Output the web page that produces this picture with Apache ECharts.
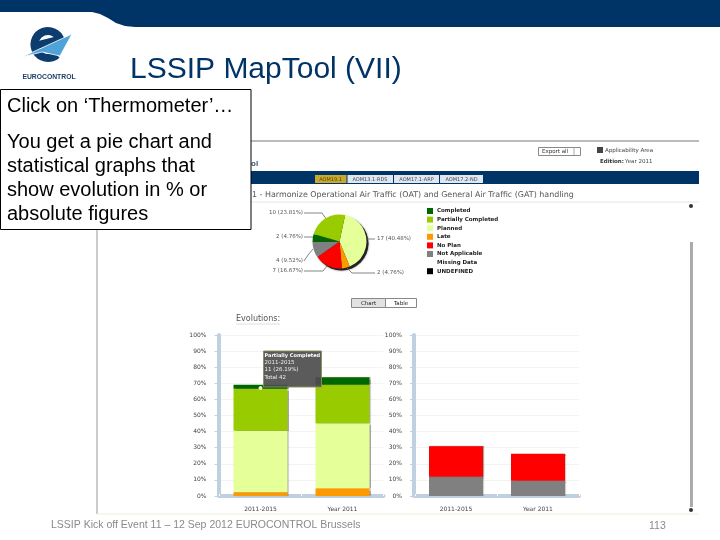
<!DOCTYPE html>
<html>
<head>
<meta charset="utf-8">
<title>LSSIP MapTool (VII)</title>
<script src="https://cdn.jsdelivr.net/npm/echarts@6/dist/echarts.min.js"></script>
<style>
  html, body { margin: 0; padding: 0; background: #fff; }
  #chart { width: 720px; height: 540px; }
</style>
</head>
<body>
<div id="chart"></div>
<script>
// pie + legend
var statusNames = ['Completed', 'Partially Completed', 'Planned', 'Late', 'No Plan', 'Not Applicable', 'Missing Data', 'UNDEFINED'];
var statusColors = ['#006600', '#99cc00', '#e5ff99', '#ff9900', '#ff0000', '#808080', '#ffffff', '#000000'];
var pieOrder = ['Planned', 'Late', 'No Plan', 'Not Applicable', 'Completed', 'Partially Completed', 'Missing Data', 'UNDEFINED'];
var pieValues = [17, 2, 7, 4, 2, 10, 0, 0];

// evolution bars, % of 42
var periods = ['2011-2015', 'Year 2011'];
var lateShare = [2.38, 4.76];
var plannedShare = [38.10, 40.48];
var partialShare = [26.19, 23.81];
var completedShare = [2.38, 4.76];
var notApplicableShare = [11.90, 9.52];
var noPlanShare = [19.05, 16.67];

var tabNames = ['AOM19.1', 'AOM13.1-RDS', 'AOM17.1-ARP', 'AOM17.2-ND'];
var tooltipLines = ['Partially Completed', '2011-2015', '11 (26.19%)', 'Total 42'];
var boxLines = ['You get a pie chart and', 'statistical graphs that', 'show evolution in % or', 'absolute figures'];

// where the pie labels sit: label x, y, then the leader line
var pieLabelSpots = [
  { x: 377, y: 239, align: 'left', line: [[367, 239], [371, 239], [375, 239]] },
  { x: 377, y: 273, align: 'left', line: [[347, 268], [352, 273], [375, 273]] },
  { x: 303, y: 271, align: 'right', line: [[327, 266], [323, 271], [304, 271]] },
  { x: 303, y: 261, align: 'right', line: [[313, 249], [308, 255], [304, 261]] },
  { x: 303, y: 237, align: 'right', line: [[314, 237], [309, 237], [304, 237]] },
  { x: 303, y: 213, align: 'right', line: [[327, 220], [322, 213], [304, 213]] }
];

var SANS = '"Liberation Sans", Arial, sans-serif';
var SMALL = '"DejaVu Sans", sans-serif';
var NAVY = '#003366';

function text(str, x, y, font, fill, extra) {
  return {
    type: 'text', z: (extra && extra.z) || 1, silent: true,
    style: {
      text: str, x: x, y: y, font: font, fill: fill,
      align: (extra && extra.align) || 'left', verticalAlign: 'middle'
    }
  };
}
function rect(x, y, w, h, fill, extra) {
  return {
    type: 'rect', z: (extra && extra.z) || 0, silent: true,
    shape: { x: x, y: y, width: w, height: h },
    style: { fill: fill, stroke: (extra && extra.stroke) || null, lineWidth: 1, opacity: (extra && extra.opacity) || 1 }
  };
}
function line(x1, y1, x2, y2, color, width) {
  return {
    type: 'line', z: 0, silent: true,
    shape: { x1: x1, y1: y1, x2: x2, y2: y2 },
    style: { stroke: color, lineWidth: width || 1 }
  };
}
function yAxisFor(gridIndex) {
  return {
    type: 'value', gridIndex: gridIndex, min: 0, max: 100, interval: 10, offset: 1,
    axisLabel: { formatter: '{value}%', fontSize: 6, fontFamily: SMALL, color: '#444', margin: 12 },
    axisLine: { show: true, lineStyle: { color: '#c0d0e0', width: 4 } },
    axisTick: { show: true, length: 4, lineStyle: { color: '#c0d0e0' } },
    splitLine: { lineStyle: { color: '#f3f3f3', width: 1 } }
  };
}
function xAxisFor(gridIndex) {
  return {
    type: 'category', gridIndex: gridIndex, data: periods, offset: 2,
    axisLabel: { fontSize: 6, fontFamily: SMALL, color: '#444', margin: 8.5, interval: 0 },
    axisLine: { lineStyle: { color: '#c0d0e0', width: 4 } },
    axisTick: { show: true, inside: true, length: 2, lineStyle: { color: '#fff', width: 1 } }
  };
}
function barFor(name, values, gridIndex, stack) {
  return {
    type: 'bar', name: name, stack: stack, data: values, barWidth: 54,
    xAxisIndex: gridIndex, yAxisIndex: gridIndex, z: 3,
    itemStyle: {
      color: statusColors[statusNames.indexOf(name)],
      shadowColor: 'rgba(60,60,40,0.45)', shadowBlur: 1, shadowOffsetX: 1
    }
  };
}

var pieData = pieOrder.map(function (name, i) {
  var item = {
    name: name, value: pieValues[i],
    itemStyle: { color: statusColors[statusNames.indexOf(name)] }
  };
  if (!pieValues[i]) {
    item.label = { show: false };
    item.labelLine = { show: false };
  }
  return item;
});

// slide furniture and the captured page around the charts
var decor = [
  { type: 'polygon', z: 0, silent: true, shape: { points: [[0, 0], [720, 0], [720, 27], [135, 27], [125, 26], [116, 23], [108, 18], [100, 14], [92, 12], [0, 12]] }, style: { fill: NAVY } },
  // logo
  { type: 'arc', z: 0, silent: true, shape: { cx: 48, cy: 44.5, r: 13.5, startAngle: -0.35, endAngle: 0.85, clockwise: false }, style: { stroke: '#0d3c6e', lineWidth: 8, fill: null } },
  { type: 'polygon', z: 0, silent: true, shape: { points: [[38, 41], [62, 35], [56, 44], [38, 49]] }, style: { fill: '#0d3c6e' } },
  { type: 'polygon', z: 0, silent: true, shape: { points: [[22, 57], [72, 34], [60, 56], [42, 52]] }, style: { fill: '#4fa3d8', stroke: '#fff', lineWidth: 0.8 } },
  text('EUROCONTROL', 49, 77, 'bold 6.8px ' + SANS, '#1c3f66', { align: 'center' }),
  text('LSSIP MapTool (VII)', 130, 70, '30px ' + SANS, NAVY),

  // page frame
  line(97, 225, 97, 514, '#999', 1),
  line(251, 141, 699, 141, '#bbb', 2),
  line(97, 514, 699, 514, '#eeeedd', 1),
  line(251, 202, 699, 202, '#e4e4e4', 1),
  line(691, 242, 691, 507, '#555', 1),
  line(692.5, 242, 692.5, 507, '#999', 0.8),
  { type: 'circle', z: 0, silent: true, shape: { cx: 691, cy: 206, r: 2 }, style: { fill: '#333' } },
  { type: 'circle', z: 0, silent: true, shape: { cx: 691, cy: 510, r: 2 }, style: { fill: '#333' } },
  rect(538.5, 147.5, 42, 8, '#fff', { stroke: '#888' }),
  line(574, 147, 574, 155, '#aaa', 1),
  text('Export all', 542, 151.5, '5.5px ' + SMALL, '#333'),
  rect(597, 147, 6, 6, '#444'),
  text('Applicability Area', 605, 150.5, '5.5px ' + SMALL, '#444'),
  text('Edition:', 600, 162, 'bold 5.5px ' + SMALL, '#333'),
  text('Year 2011', 625, 162, '5.5px ' + SMALL, '#444'),
  text('ol', 251, 163.5, 'bold 8px ' + SANS, '#335577'),
  rect(251, 171, 448, 13, NAVY),
  rect(315, 175, 31.5, 8, '#c9a92c'),
  rect(347.5, 175, 45.5, 8, '#dfe7ef'),
  rect(394, 175, 45, 8, '#dfe7ef'),
  rect(440, 175, 43, 8, '#dfe7ef'),
  text(tabNames[0], 330.5, 179.5, '5px ' + SMALL, '#554411', { align: 'center' }),
  text(tabNames[1], 370, 179.5, '5px ' + SMALL, '#445', { align: 'center' }),
  text(tabNames[2], 416.5, 179.5, '5px ' + SMALL, '#445', { align: 'center' }),
  text(tabNames[3], 461.5, 179.5, '5px ' + SMALL, '#445', { align: 'center' }),
  text('1 - Harmonize Operational Air Traffic (OAT) and General Air Traffic (GAT) handling', 252, 194.5, '7.95px ' + SMALL, '#555'),

  // drop shadow under the pie
  { type: 'circle', z: 0, silent: true, shape: { cx: 341.5, cy: 243.5, r: 27 }, style: { fill: '#222', shadowColor: 'rgba(0,0,0,0.6)', shadowBlur: 2 } },

  // chart / table switch
  rect(351.5, 298.5, 34, 9, '#e2e2e2', { stroke: '#888' }),
  rect(385.5, 298.5, 31, 9, '#fff', { stroke: '#888' }),
  text('Chart', 368.5, 303.5, '5.5px ' + SMALL, '#222', { align: 'center' }),
  text('Table', 401, 303.5, '5.5px ' + SMALL, '#222', { align: 'center' }),
  text('Evolutions:', 236, 319, '8px ' + SMALL, '#555'),
  line(236, 324, 280, 324, '#ddd', 1),

  // footer
  text('LSSIP Kick off Event 11 – 12 Sep 2012 EUROCONTROL Brussels', 51, 525.5, '10.5px ' + SANS, '#8a8a8a'),
  text('113', 649, 526.5, '10.5px ' + SANS, '#8a8a8a'),

  // hover tooltip over the first bar
  rect(263.5, 351, 58, 36, '#4d4d4d', { z: 20, stroke: '#8c8c5c', opacity: 0.92 }),
  text(tooltipLines[0], 264.5, 355.5, 'bold 5px ' + SMALL, '#fff', { z: 21 }),
  text(tooltipLines[1], 264.5, 363, '5.5px ' + SMALL, '#eee', { z: 21 }),
  text(tooltipLines[2], 264.5, 370, '5.5px ' + SMALL, '#eee', { z: 21 }),
  text(tooltipLines[3], 264.5, 378, '5.5px ' + SMALL, '#eee', { z: 21 }),
  { type: 'circle', z: 21, silent: true, shape: { cx: 260.5, cy: 388, r: 1.5 }, style: { fill: '#e5ff99', stroke: '#fff' } },

  // call-out box sits over the page capture
  rect(0.5, 89.5, 250.5, 140, '#fff', { z: 30, stroke: '#000' }),
  text('Click on ‘Thermometer’…', 7, 106, '20px ' + SANS, '#000', { z: 31 })
];
boxLines.forEach(function (str, i) {
  decor.push(text(str, 7, 142 + i * 24, '20px ' + SANS, '#000', { z: 31 }));
});

var chart = echarts.init(document.getElementById('chart'), null, { renderer: 'canvas' });
chart.setOption({
  animation: false,
  backgroundColor: '#fff',
  graphic: { elements: decor },
  legend: {
    data: statusNames, orient: 'vertical', left: 427, top: 208,
    itemWidth: 6, itemHeight: 6, itemGap: 2.6, selectedMode: false,
    icon: 'rect', padding: 0,
    textStyle: { fontSize: 5.5, fontWeight: 'bold', fontFamily: SMALL, color: '#222', padding: [0, 0, 0, -1] }
  },
  grid: [
    { left: 219.5, width: 164, top: 335, height: 161 },
    { left: 415, width: 164, top: 335, height: 161 }
  ],
  xAxis: [xAxisFor(0), xAxisFor(1)],
  yAxis: [yAxisFor(0), yAxisFor(1)],
  series: [
    {
      type: 'pie', center: [339.5, 241.5], radius: 27, startAngle: 78, data: pieData,
      itemStyle: { borderWidth: 0, borderColor: 'transparent' },
      label: {
        formatter: function (p) { return p.value + ' (' + p.percent.toFixed(2) + '%)'; },
        fontSize: 5.5, fontFamily: SMALL, color: '#555'
      },
      labelLine: { show: true, lineStyle: { color: '#666', width: 0.8 } },
      labelLayout: function (p) {
        var spot = pieLabelSpots[p.dataIndex];
        if (!spot) return {};
        return { x: spot.x, y: spot.y, align: spot.align, verticalAlign: 'middle', labelLinePoints: spot.line };
      }
    },
    barFor('Late', lateShare, 0, 'evolution'),
    barFor('Planned', plannedShare, 0, 'evolution'),
    barFor('Partially Completed', partialShare, 0, 'evolution'),
    barFor('Completed', completedShare, 0, 'evolution'),
    barFor('Not Applicable', notApplicableShare, 1, 'absent'),
    barFor('No Plan', noPlanShare, 1, 'absent')
  ]
});
</script>
</body>
</html>
